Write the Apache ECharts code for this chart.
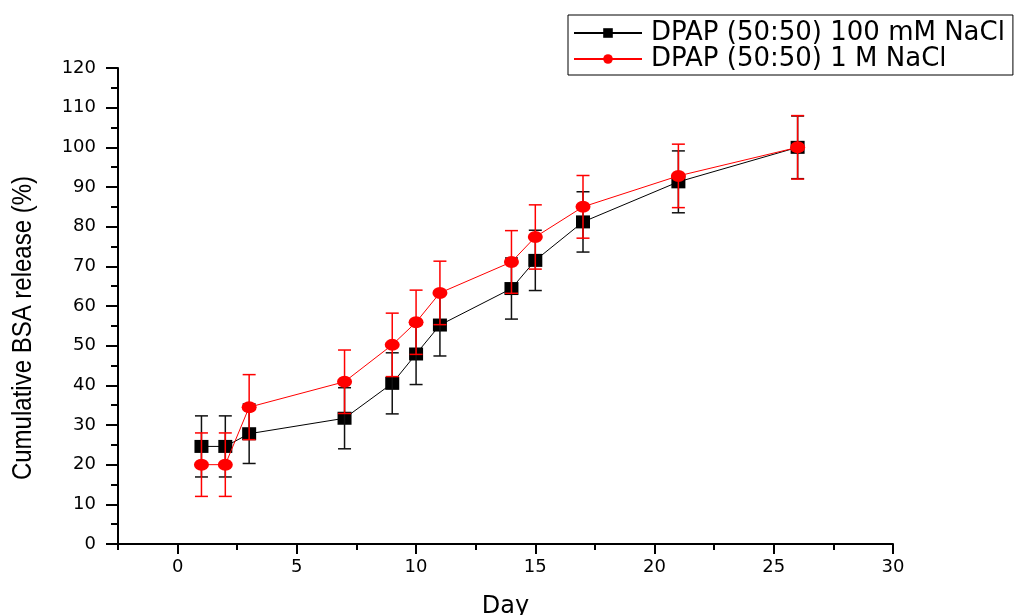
<!DOCTYPE html>
<html>
<head>
<meta charset="utf-8">
<title>Cumulative BSA release</title>
<script src="https://cdn.jsdelivr.net/npm/echarts@6/dist/echarts.min.js"></script>
<style>
  html, body { margin: 0; padding: 0; background: #ffffff; }
  #chart { width: 1029px; height: 615px; }
</style>
</head>
<body>
<div id="chart"></div>
<script>
// Sampling days
const days = [1, 2, 3, 7, 9, 10, 11, 14, 15, 17, 21, 26];

// DPAP (50:50) in 100 mM NaCl: mean cumulative release (%) and SD
const release100mM = [24.6, 24.6, 27.8, 31.7, 40.5, 47.9, 55.2, 64.4, 71.5, 81.2, 91.3, 100];
const err100mM     = [7.7, 7.7, 7.5, 7.7, 7.7, 7.7, 7.8, 7.7, 7.6, 7.6, 7.8, 7.9];

// DPAP (50:50) in 1 M NaCl: mean cumulative release (%) and SD
const release1M = [20.0, 20.0, 34.5, 40.9, 50.2, 55.9, 63.3, 71.1, 77.4, 85.0, 92.8, 100];
const err1M     = [8.0, 8.0, 8.2, 8.0, 8.0, 8.1, 8.0, 7.9, 8.1, 7.9, 8.0, 8.0];

// Axis tick values
const xMajorTicks = [0, 5, 10, 15, 20, 25, 30];
const xMinorTicks = [-2.5, 2.5, 7.5, 12.5, 17.5, 22.5, 27.5];

const seriesNames = ['DPAP (50:50) 100 mM NaCl', 'DPAP (50:50) 1 M NaCl'];

const chart = echarts.init(document.getElementById('chart'), null, { renderer: 'canvas' });

function pairs(vals) {
  return days.map((d, i) => [d, vals[i]]);
}
function triples(vals, errs) {
  return days.map((d, i) => [d, vals[i], errs[i]]);
}

// Vertical error bar with caps
function errorBarRenderer(color) {
  return function (params, api) {
    const x = api.value(0), y = api.value(1), e = api.value(2);
    const hi = api.coord([x, y + e]);
    const lo = api.coord([x, y - e]);
    const hw = 6.5;
    const st = { stroke: color, lineWidth: 1.5 };
    return {
      type: 'group',
      children: [
        { type: 'line', shape: { x1: hi[0], y1: hi[1], x2: lo[0], y2: lo[1] }, style: st },
        { type: 'line', shape: { x1: hi[0] - hw, y1: hi[1], x2: hi[0] + hw, y2: hi[1] }, style: st },
        { type: 'line', shape: { x1: lo[0] - hw, y1: lo[1], x2: lo[0] + hw, y2: lo[1] }, style: st }
      ]
    };
  };
}

const FONT = 'DejaVu Sans';
const axisStroke = { color: '#000', width: 2 };

const option = {
  backgroundColor: '#ffffff',
  animation: false,
  grid: { left: 118, right: 136, top: 68, bottom: 71, containLabel: false, outerBoundsMode: 'none' },
  legend: {
    data: seriesNames,
    orient: 'vertical',
    left: 568,
    top: 15,
    padding: [5, 8, 3, 5],
    itemGap: 0,
    itemWidth: 68,
    itemHeight: 12,
    backgroundColor: '#ffffff',
    borderColor: '#000',
    borderWidth: 1,
    borderRadius: 0,
    textStyle: { fontFamily: FONT, fontSize: 26, color: '#000', lineHeight: 25, padding: [0, 0, 0, 4] }
  },
  xAxis: [
    {
      type: 'value',
      min: -2.5,
      max: 30,
      position: 'bottom',
      name: 'Day',
      nameLocation: 'middle',
      nameGap: 51,
      nameTextStyle: { fontFamily: FONT, fontSize: 24, color: '#000' },
      axisLine: { show: true, onZero: false, lineStyle: axisStroke },
      axisTick: { show: true, customValues: xMajorTicks, length: 10, lineStyle: axisStroke },
      axisLabel: { customValues: xMajorTicks, margin: 14, fontFamily: FONT, fontSize: 18, color: '#000' },
      splitLine: { show: false }
    },
    {
      type: 'value',
      min: -2.5,
      max: 30,
      position: 'bottom',
      axisLine: { show: false, onZero: false },
      axisTick: { show: true, customValues: xMinorTicks, length: 6, lineStyle: axisStroke },
      axisLabel: { show: false },
      splitLine: { show: false }
    }
  ],
  yAxis: {
    type: 'value',
    min: 0,
    max: 120,
    interval: 10,
    axisLine: { show: true, onZero: false, lineStyle: axisStroke },
    axisTick: { show: true, length: 12, lineStyle: axisStroke },
    minorTick: { show: true, splitNumber: 2, length: 7, lineStyle: axisStroke },
    axisLabel: { margin: 22, fontFamily: FONT, fontSize: 18, color: '#000' },
    splitLine: { show: false },
    minorSplitLine: { show: false }
  },
  graphic: [
    {
      type: 'text',
      x: 23,
      y: 328,
      rotation: Math.PI / 2,
      scaleY: 1.15,
      style: {
        text: 'Cumulative BSA release (%)',
        fontFamily: 'Liberation Sans',
        fontSize: 24,
        fill: '#000',
        align: 'center',
        verticalAlign: 'middle'
      }
    }
  ],
  series: [
    {
      name: seriesNames[0],
      type: 'line',
      xAxisIndex: 0,
      data: pairs(release100mM),
      symbol: 'rect',
      symbolSize: [14, 13],
      lineStyle: { color: '#000', width: 1 },
      itemStyle: { color: '#000' },
      z: 2
    },
    {
      name: 'err100mM',
      type: 'custom',
      xAxisIndex: 0,
      data: triples(release100mM, err100mM),
      encode: { x: 0, y: 1 },
      renderItem: errorBarRenderer('#111'),
      clip: false,
      z: 3
    },
    {
      name: seriesNames[1],
      type: 'line',
      xAxisIndex: 0,
      data: pairs(release1M),
      symbol: 'circle',
      symbolSize: [15, 12],
      lineStyle: { color: '#ff0000', width: 1 },
      itemStyle: { color: '#ff0000' },
      z: 4
    },
    {
      name: 'err1M',
      type: 'custom',
      xAxisIndex: 0,
      data: triples(release1M, err1M),
      encode: { x: 0, y: 1 },
      renderItem: errorBarRenderer('#ff0000'),
      clip: false,
      z: 5
    }
  ]
};

chart.setOption(option);
</script>
</body>
</html>
